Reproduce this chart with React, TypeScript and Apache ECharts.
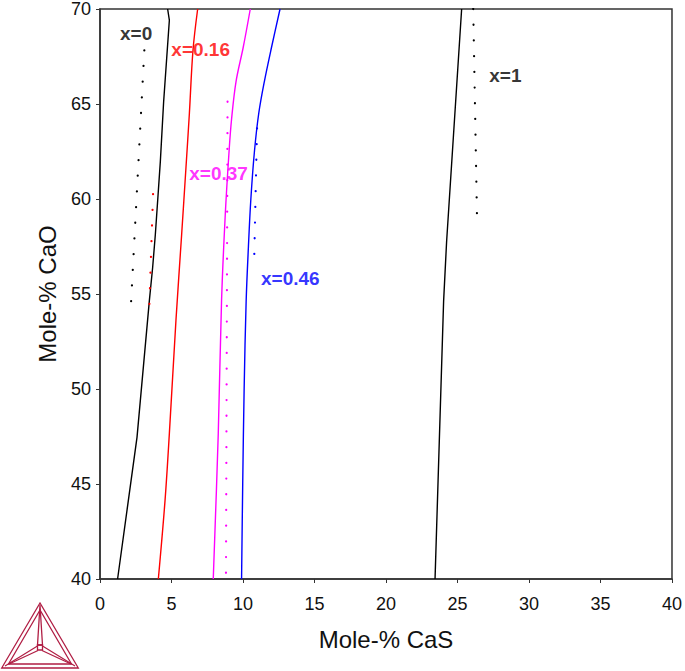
import React, { useEffect, useRef } from "react";
import * as echarts from "echarts";

// Axis ranges / ticks
const xMin = 0, xMax = 40, xStep = 5;
const yMin = 40, yMax = 70, yStep = 5;

// Solid curves: [Mole-% CaS, Mole-% CaO]
const curveX0: [number, number][] = [
  [4.73, 70], [4.85, 69.41], [4.45, 65.12], [4.22, 61.98], [4.03, 59.88],
  [3.87, 58.13], [3.68, 56.38], [3.45, 54.64], [2.59, 47.47], [1.23, 40],
];
const curveX016: [number, number][] = [
  [6.83, 70], [6.5, 67.8], [6.25, 64.5], [6.01, 61.63], [5.71, 58.13],
  [5.31, 53.59], [4.85, 47.65], [4.55, 44.15], [4.08, 40],
];
const curveX037: [number, number][] = [
  [10.51, 70], [10.02, 68], [9.51, 66.17], [9.2, 64.2], [9.04, 62.67],
  [8.76, 59.18], [8.5, 54.64], [8.27, 47.65], [7.92, 40],
];
const curveX046: [number, number][] = [
  [12.59, 70], [12.0, 68], [11.49, 66.17], [11.1, 64.5], [10.8, 62.5],
  [10.55, 60], [10.38, 57.5], [10.22, 54.6], [10.08, 50], [9.98, 45], [9.9, 40],
];
const curveX1: [number, number][] = [
  [25.29, 70], [24.24, 57.78], [24.03, 54.64], [23.43, 40],
];

// Dotted curves
const dotsX0: [number, number][] = [[3.1, 67.83], [2.12, 53.81]];
const dotsX016: [number, number][] = [[3.71, 60.26], [3.45, 54.37]];
const dotsX037: [number, number][] = [[8.92, 65.12], [8.81, 40.3]];
const dotsX046: [number, number][] = [[10.98, 63.72], [10.79, 57.08]];
const dotsX1: [number, number][] = [[26.1, 70], [26.36, 59.23]];

// Labels
const labelNames = ["x=0", "x=0.16", "x=0.37", "x=0.46", "x=1"];
const labelPos: [number, number][] = [
  [1.4, 68.7], [4.99, 67.85], [6.24, 61.32], [11.26, 55.84], [27.22, 66.52],
];
const colors = ["#000000", "#ff0000", "#ff00ff", "#0000ff", "#000000"];

const solidCurves = [curveX0, curveX016, curveX037, curveX046, curveX1];
const dottedCurves = [dotsX0, dotsX016, dotsX037, dotsX046, dotsX1];

const FONT = "'Liberation Sans', Arial, Helvetica, sans-serif";
const LOGO = "#b01e44";

export default function App() {
  const ref = useRef<HTMLDivElement>(null);
  useEffect(() => {
    if (!ref.current) return;
    const chart = echarts.init(ref.current, null, { renderer: "svg" });
    const series: any[] = [];
    solidCurves.forEach((c, i) => {
      series.push({
        type: "line",
        data: c,
        showSymbol: false,
        smooth: i === 0 || i === 4 ? false : 0.35,
        lineStyle: { color: colors[i], width: 1.4 },
        silent: true,
      });
    });
    dottedCurves.forEach((c, i) => {
      series.push({
        type: "line",
        data: c,
        showSymbol: false,
        lineStyle: { color: colors[i], width: 2.2, type: [0.1, 15.6], cap: "round" },
        silent: true,
      });
    });
    series.push({
      type: "scatter",
      symbolSize: 0,
      silent: true,
      data: labelPos.map((p, i) => ({
        value: p,
        label: {
          show: true,
          position: "right",
          distance: 0,
          formatter: labelNames[i],
          color: colors[i],
          fontFamily: FONT,
          fontWeight: "bold",
          fontSize: 19,
        },
      })),
    });

    const lineStyle = { stroke: LOGO, lineWidth: 1.3, fill: "none" };
    const logo: any[] = [
      { type: "polygon", shape: { points: [[40, 603], [1.7, 668], [78.3, 668]] }, style: lineStyle },
      { type: "polygon", shape: { points: [[40, 610], [8.5, 664], [71.5, 664]] }, style: lineStyle },
      { type: "polyline", shape: { points: [[40, 605], [37.5, 645], [42.5, 645], [40, 605]] }, style: lineStyle },
      { type: "polygon", shape: { points: [[37.5, 645], [42.5, 645], [42.5, 650], [37.5, 650]] }, style: lineStyle },
      { type: "polyline", shape: { points: [[37.5, 646], [5, 666]] }, style: lineStyle },
      { type: "polyline", shape: { points: [[38, 650.5], [9, 664]] }, style: lineStyle },
      { type: "polyline", shape: { points: [[42.5, 646], [75, 666]] }, style: lineStyle },
      { type: "polyline", shape: { points: [[42, 650.5], [71, 664]] }, style: lineStyle },
    ];

    chart.setOption({
      animation: false,
      backgroundColor: "#ffffff",
      grid: {
        left: 100,
        right: 12,
        top: 7,
        bottom: 92,
        show: true,
        borderColor: "#333",
        borderWidth: 1.5,
      },
      xAxis: {
        type: "value",
        min: xMin,
        max: xMax,
        interval: xStep,
        name: "Mole-% CaS",
        nameLocation: "middle",
        nameGap: 48,
        nameTextStyle: { fontFamily: FONT, fontSize: 24, color: "#111" },
        axisLine: { lineStyle: { color: "#333", width: 1.5 } },
        axisTick: { show: true, length: 4, inside: false, lineStyle: { color: "#333" } },
        axisLabel: { fontFamily: FONT, fontSize: 18, color: "#111", margin: 16 },
        splitLine: { show: false },
      },
      yAxis: {
        type: "value",
        min: yMin,
        max: yMax,
        interval: yStep,
        name: "Mole-% CaO",
        nameLocation: "middle",
        nameGap: 41,
        nameTextStyle: { fontFamily: FONT, fontSize: 24, color: "#111" },
        axisLine: { lineStyle: { color: "#333", width: 1.5 } },
        axisTick: { show: true, length: 4, inside: false, lineStyle: { color: "#333" } },
        axisLabel: { fontFamily: FONT, fontSize: 18, color: "#111", margin: 9 },
        splitLine: { show: false },
      },
      graphic: logo,
      series,
    });
    return () => chart.dispose();
  }, []);
  return (
    <div
      ref={ref}
      style={{ position: "fixed", left: 0, top: 0, width: 685, height: 671 }}
    />
  );
}
